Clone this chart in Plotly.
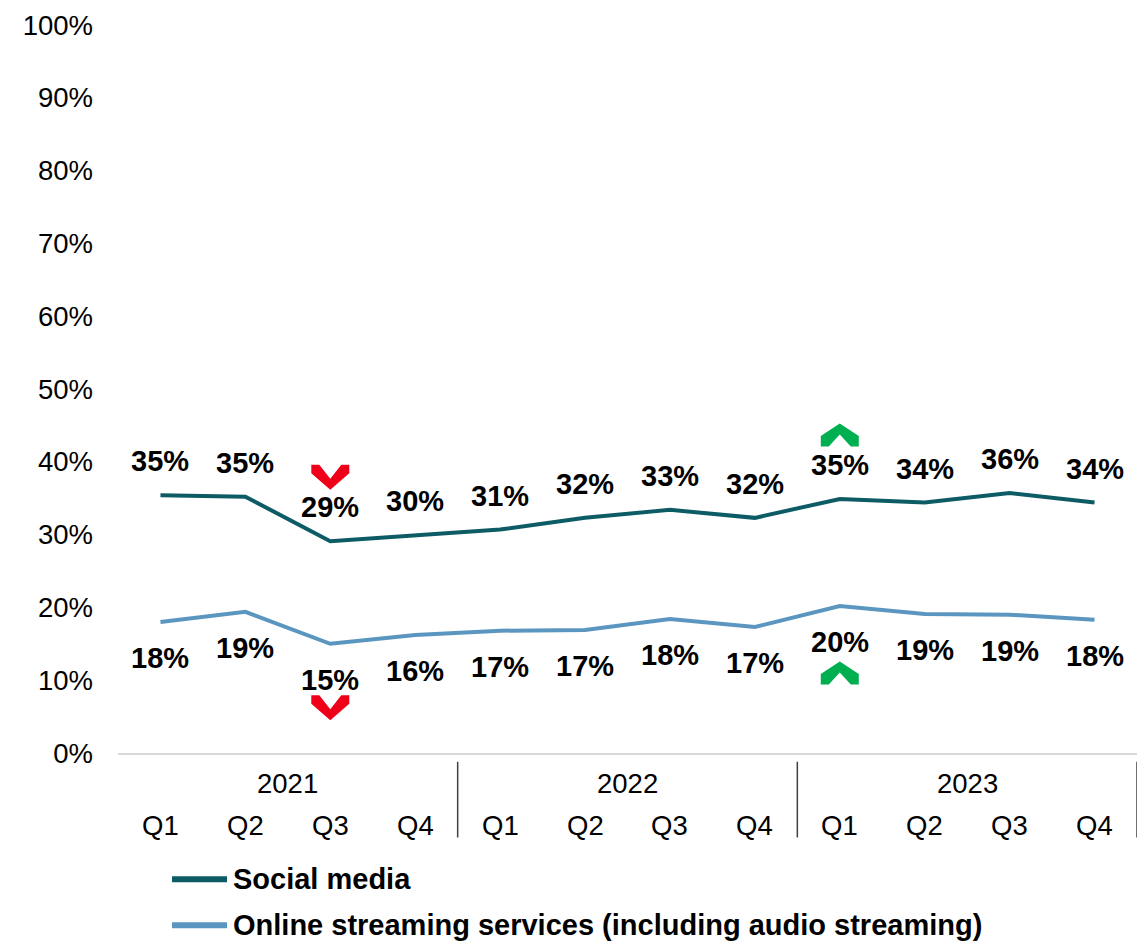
import plotly.graph_objects as go

quarters = ["Q1", "Q2", "Q3", "Q4"] * 3
years = ["2021", "2022", "2023"]
social = [35.4, 35.2, 29.1, 29.9, 30.7, 32.3, 33.4, 32.3, 34.9, 34.4, 35.7, 34.4]
streaming = [18.0, 19.4, 15.0, 16.2, 16.8, 16.9, 18.4, 17.3, 20.2, 19.1, 19.0, 18.3]
series_names = ["Social media", "Online streaming services (including audio streaming)"]
yticks = list(range(0, 101, 10))
# change markers: (index, direction)
change_social = [(2, "down"), (8, "up")]
change_streaming = [(2, "down"), (8, "up")]

FONT = "Liberation Sans, Arial, sans-serif"
C_SOCIAL = "#0D5B64"
C_STREAM = "#5B96C0"
RED = "#F00018"
GREEN = "#00B050"

x = list(range(len(social)))

fig = go.Figure()
fig.add_trace(go.Scatter(x=x, y=social, mode="lines", line=dict(color=C_SOCIAL, width=4),
                         name=series_names[0], showlegend=False))
fig.add_trace(go.Scatter(x=x, y=streaming, mode="lines", line=dict(color=C_STREAM, width=4),
                         name=series_names[1], showlegend=False))

annotations = []
shapes = []
for i, v in enumerate(social):
    annotations.append(dict(x=i, y=v, xref="x", yref="y", text=f"<b>{round(v)}%</b>",
                            showarrow=False, yshift=34, font=dict(size=29, color="black", family=FONT)))
for i, v in enumerate(streaming):
    annotations.append(dict(x=i, y=v, xref="x", yref="y", text=f"<b>{round(v)}%</b>",
                            showarrow=False, yshift=-36, font=dict(size=29, color="black", family=FONT)))


def chevron(direction, dy):
    if direction == "up":
        pts = [(0, 11.5), (19, -1), (19, -11.5), (11, -11.5), (0, 0.5), (-11, -11.5), (-19, -11.5), (-19, -1)]
    else:
        pts = [(-19, 12.5), (-11, 12.5), (0, -1.5), (11, 12.5), (19, 12.5), (19, 4), (0, -12.5), (-19, 4)]
    return "M" + " L".join(f"{px},{py + dy}" for px, py in pts) + " Z"


for idx, d in change_social:
    shapes.append(dict(type="path", xref="x", yref="y", xsizemode="pixel", ysizemode="pixel",
                       xanchor=idx, yanchor=social[idx], path=chevron(d, 64),
                       fillcolor=RED if d == "down" else GREEN, line=dict(width=0)))
for idx, d in change_streaming:
    off = -64 if d == "down" else -67
    shapes.append(dict(type="path", xref="x", yref="y", xsizemode="pixel", ysizemode="pixel",
                       xanchor=idx, yanchor=streaming[idx], path=chevron(d, off),
                       fillcolor=RED if d == "down" else GREEN, line=dict(width=0)))

# multi-level category axis labels
for i, q in enumerate(quarters):
    annotations.append(dict(x=i, y=0, xref="x", yref="paper", text=q, showarrow=False,
                            yanchor="middle", yshift=-72, font=dict(size=27.5, color="black", family=FONT)))
for j, yr in enumerate(years):
    annotations.append(dict(x=j * 4 + 1.5, y=0, xref="x", yref="paper", text=yr, showarrow=False,
                            yanchor="middle", yshift=-30, font=dict(size=27.5, color="black", family=FONT)))
for j in range(1, len(years) + 1):
    shapes.append(dict(type="line", xref="x", yref="paper", x0=j * 4 - 0.5, x1=j * 4 - 0.5,
                       y0=-0.012, y1=-0.116, line=dict(color="#404040", width=1.5)))

# legend (drawn manually to match long legend lines)
legend_y = [-0.1733, -0.2365]
for k, (nm, col) in enumerate(zip(series_names, [C_SOCIAL, C_STREAM])):
    yp = legend_y[k]
    shapes.append(dict(type="line", xref="paper", yref="paper", x0=0.053, x1=0.107, y0=yp, y1=yp,
                       line=dict(color=col, width=6)))
    annotations.append(dict(x=0.1105, y=yp, xref="paper", yref="paper", text=f"<b>{nm}</b>",
                            showarrow=False, xanchor="left", yanchor="middle",
                            font=dict(size=29, color="black", family=FONT)))

fig.update_layout(
    width=1147, height=942,
    margin=dict(l=118, r=10, t=20, b=189),
    plot_bgcolor="white", paper_bgcolor="white",
    font=dict(family=FONT, color="black"),
    annotations=annotations, shapes=shapes,
    showlegend=False,
)
fig.update_xaxes(range=[-0.5, 11.5], showticklabels=False, showgrid=False, zeroline=False,
                 showline=True, linecolor="#D9D9D9", linewidth=2, ticks="")
fig.update_yaxes(range=[0, 100], tickvals=yticks, ticktext=[f"{t}%" for t in yticks],
                 showgrid=False, zeroline=False, showline=False, ticks="",
                 tickfont=dict(size=27.5, color="black", family=FONT), ticklabelstandoff=24)

fig.write_html("out.html")
